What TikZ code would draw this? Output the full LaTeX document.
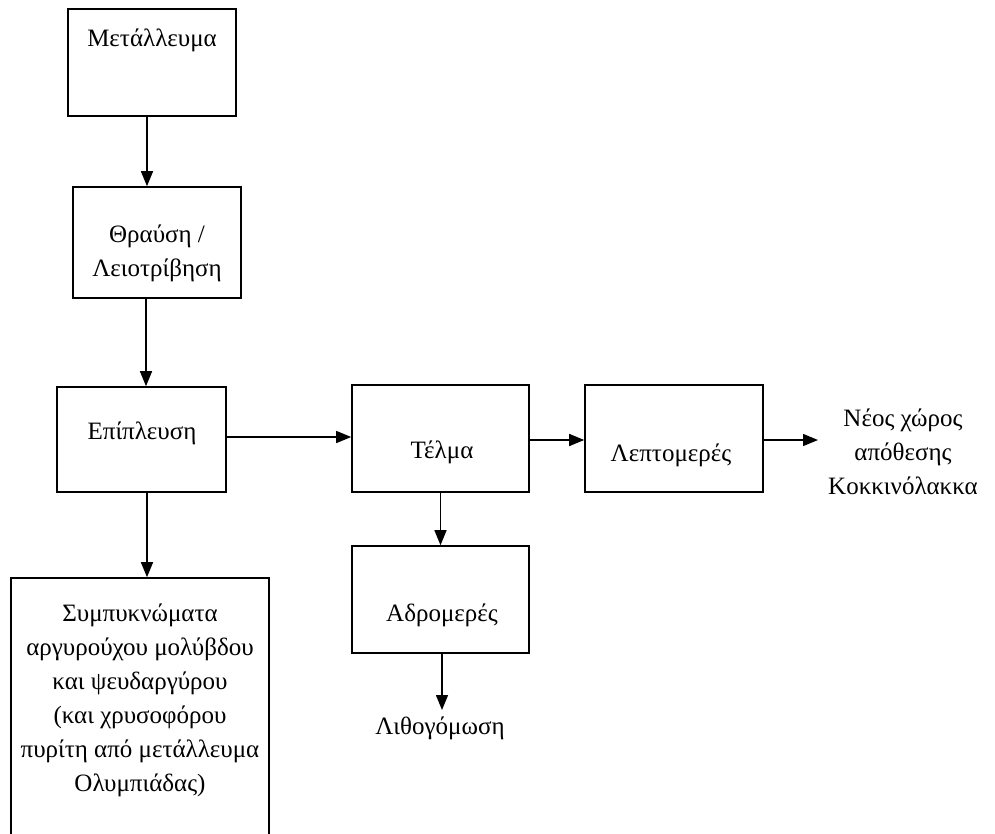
\documentclass[tikz,border=0pt]{standalone}
\usepackage{fontspec}
\setmainfont{Liberation Serif}
\usetikzlibrary{arrows.meta}
\begin{document}
\begin{tikzpicture}[x=1pt,y=-1pt,
  box/.style={draw, line width=1.6pt, rectangle, inner sep=0pt},
  txt/.style={inner sep=0pt, align=center, font=\fontsize{25}{34}\selectfont},
  arr/.style={line width=1.4pt, -{Triangle[length=15pt,width=12pt]}}]
\path[use as bounding box] (0,0) rectangle (995,833);
\clip (0,0) rectangle (995,833);

% process boxes
\node[box, minimum width=168, minimum height=107] (b1) at (152,62.5) {};
\node[box, minimum width=168, minimum height=111] (b2) at (157,242.5) {};
\node[box, minimum width=169, minimum height=105] (b3) at (141.5,439.5) {};
\node[box, minimum width=177, minimum height=107] (b4) at (440.5,438.5) {};
\node[box, minimum width=178, minimum height=107] (b5) at (674,438.5) {};
\node[box, minimum width=177, minimum height=107] (b6) at (440.5,599.5) {};
\node[box, minimum width=258, minimum height=282] (b7) at (140,719) {};

% box captions
\node[txt] (t1) at (152,40) {Μετάλλευμα};
\node[txt] (t2) at (157,253.5) {Θραύση /\\Λειοτρίβηση};
\node[txt] (t3) at (142,433) {Επίπλευση};
\node[txt] (t4) at (442,452) {Τέλμα};
\node[txt] (t5) at (671,455) {Λεπτομερές};
\node[txt] (t6) at (442,615) {Αδρομερές};
\node[txt] (t7) at (140,700) {Συμπυκνώματα\\αργυρούχου μολύβδου\\και ψευδαργύρου\\(και χρυσοφόρου\\πυρίτη από μετάλλευμα\\Ολυμπιάδας)};

% free-standing outputs
\node[txt] (dest) at (903,452) {Νέος χώρος\\απόθεσης\\Κοκκινόλακκα};
\node[txt] (fillout) at (440,728) {Λιθογόμωση};
\coordinate (destin) at (818,440);
\coordinate (fillin) at (442,710);

% flow arrows
\draw[arr] ([xshift=-5]b1.south) -- ([xshift=-5]b1.south |- b2.north);
\draw[arr] ([xshift=-11]b2.south) -- ([xshift=-11]b2.south |- b3.north);
\draw[arr] ([yshift=2.5]b3.east) -- ([yshift=2.5]b3.east -| b4.west);
\draw[arr] ([yshift=-1.5]b4.east) -- ([yshift=-1.5]b5.west);
\draw[arr] (b5.east |- destin) -- (destin);
\draw[arr] (b4.south) -- (b6.north);
\draw[arr] (b6.south -| fillin) -- (fillin);
\draw[arr] ([xshift=5.5]b3.south) -- ([xshift=5.5]b3.south |- b7.north);
\end{tikzpicture}
\end{document}
